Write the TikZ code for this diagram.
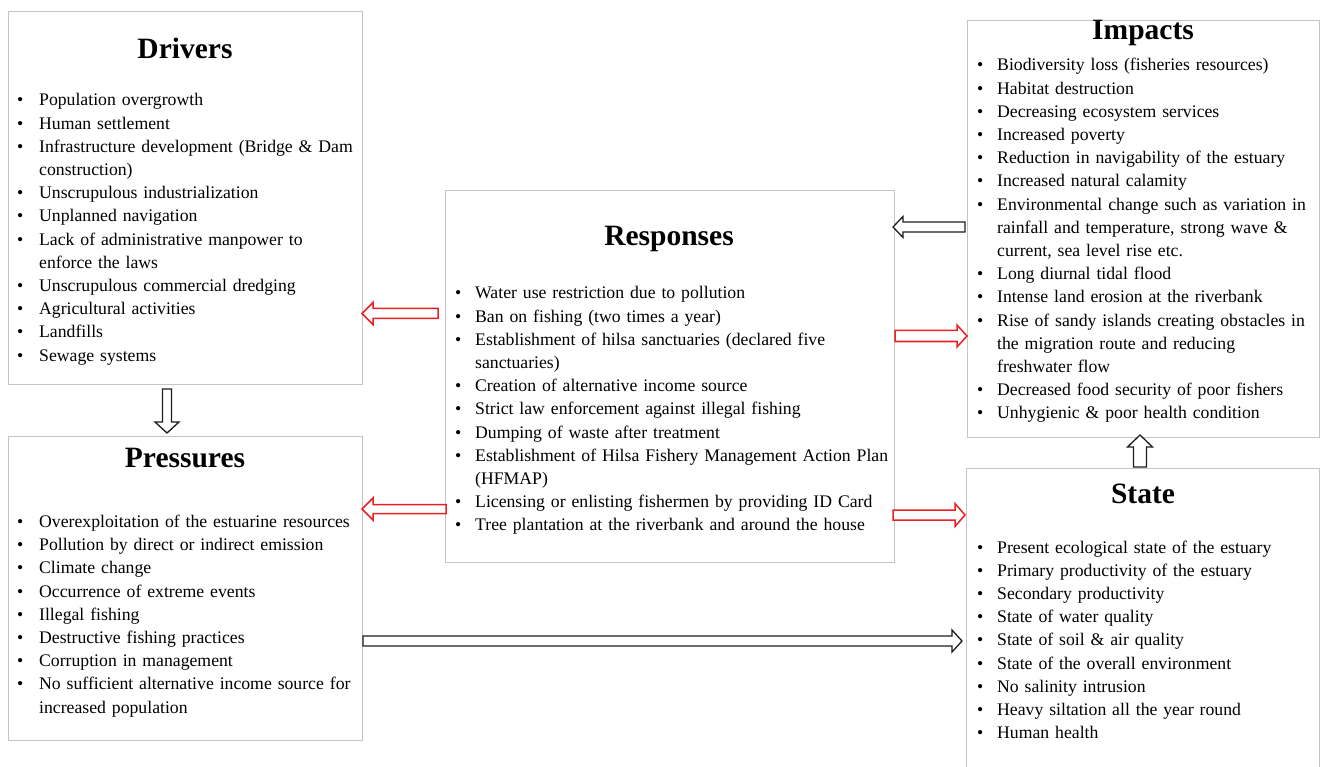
\documentclass[tikz,border=0pt]{standalone}
\usepackage{fontspec}
\setmainfont{Liberation Serif}
\usetikzlibrary{calc}
\definecolor{boxgray}{RGB}{196,196,196}
\definecolor{arrred}{RGB}{236,32,36}
\definecolor{arrblack}{RGB}{30,30,30}
\newlength\bulw
\newcommand\bitem{\makebox[\bulw][l]{\textbullet}}
\newcommand\cont{\hspace*{\bulw}}
\newcommand\blockarrow[6][]{%
  \path (#2) coordinate (bas) (#3) coordinate (bat) ($(bat)!#6!(bas)$) coordinate (bah);
  \draw[#1] ($(bas)!#4!90:(bat)$) -- ($(bah)!#4!90:(bat)$) -- ($(bah)!#5!90:(bat)$) -- (bat)
    -- ($(bah)!#5!-90:(bat)$) -- ($(bah)!#4!-90:(bat)$) -- ($(bas)!#4!-90:(bat)$) -- cycle;}
\tikzset{
  box/.style={draw=boxgray, line width=1pt, inner sep=0pt, anchor=north west},
  titlet/.style={font=\fontsize{29.5}{35}\selectfont\bfseries, inner sep=0pt, anchor=base},
  lst/.style={font={\fontsize{17.7}{23.2}\selectfont\setlength{\bulw}{#1}}, inner sep=0pt,
    anchor=base west, text width=520pt, align=left},
  redarr/.style={draw=arrred, line width=1.5pt, fill=white, line join=miter},
  blkarr/.style={draw=arrblack, line width=1.3pt, fill=white, line join=miter},
}
\begin{document}
\begin{tikzpicture}[x=1pt,y=-1pt]
\fill[white] (0,0) rectangle (1320,767);
\useasboundingbox (0,0) rectangle (1320,767);

% boxes
\node[box, minimum width=354pt, minimum height=373pt] (drv) at (8,11) {};
\node[box, minimum width=354pt, minimum height=304pt] (prs) at (8,436) {};
\node[box, minimum width=449pt, minimum height=372pt] (rsp) at (445,190) {};
\node[box, minimum width=352pt, minimum height=417pt] (imp) at (967,20) {};
\node[box, minimum width=353pt, minimum height=330pt] (sta) at (966,468) {};

% titles
\node[titlet] (drvt) at (185,59) {Drivers};
\node[titlet] (prst) at (185,467) {Pressures};
\node[titlet] (rspt) at (669,246) {Responses};
\node[titlet] (impt) at (1143,40) {Impacts};
\node[titlet] (stat) at (1143,503) {State};

% lists
\node[lst=22pt] (drvl) at (17,106) {%
\bitem Population overgrowth\\
\bitem Human settlement\\
\bitem Infrastructure development (Bridge \& Dam\\
\cont construction)\\
\bitem Unscrupulous industrialization\\
\bitem Unplanned navigation\\
\bitem Lack of administrative manpower to\\
\cont enforce the laws\\
\bitem Unscrupulous commercial dredging\\
\bitem Agricultural activities\\
\bitem Landfills\\
\bitem Sewage systems};

\node[lst=22pt] (prsl) at (17,527.5) {%
\bitem Overexploitation of the estuarine resources\\
\bitem Pollution by direct or indirect emission\\
\bitem Climate change\\
\bitem Occurrence of extreme events\\
\bitem Illegal fishing\\
\bitem Destructive fishing practices\\
\bitem Corruption in management\\
\bitem No sufficient alternative income source for\\
\cont increased population};

\node[lst=20pt] (rspl) at (455,299) {%
\bitem Water use restriction due to pollution\\
\bitem Ban on fishing (two times a year)\\
\bitem Establishment of hilsa sanctuaries (declared five\\
\cont sanctuaries)\\
\bitem Creation of alternative income source\\
\bitem Strict law enforcement against illegal fishing\\
\bitem Dumping of waste after treatment\\
\bitem Establishment of Hilsa Fishery Management Action Plan\\
\cont (HFMAP)\\
\bitem Licensing or enlisting fishermen by providing ID Card\\
\bitem Tree plantation at the riverbank and around the house};

\node[lst=20pt] (impl) at (977,71) {%
\bitem Biodiversity loss (fisheries resources)\\
\bitem Habitat destruction\\
\bitem Decreasing ecosystem services\\
\bitem Increased poverty\\
\bitem Reduction in navigability of the estuary\\
\bitem Increased natural calamity\\
\bitem Environmental change such as variation in\\
\cont rainfall and temperature, strong wave \&\\
\cont current, sea level rise etc.\\
\bitem Long diurnal tidal flood\\
\bitem Intense land erosion at the riverbank\\
\bitem Rise of sandy islands creating obstacles in\\
\cont the migration route and reducing\\
\cont freshwater flow\\
\bitem Decreased food security of poor fishers\\
\bitem Unhygienic \& poor health condition};

\node[lst=20pt] (stal) at (977,553) {%
\bitem Present ecological state of the estuary\\
\bitem Primary productivity of the estuary\\
\bitem Secondary productivity\\
\bitem State of water quality\\
\bitem State of soil \& air quality\\
\bitem State of the overall environment\\
\bitem No salinity intrusion\\
\bitem Heavy siltation all the year round\\
\bitem Human health};

% arrow end points
\coordinate (dps) at (167,389);   \coordinate (dpt) at (167,433);
\coordinate (rds) at (438,313.5); \coordinate (rdt) at (362,313.5);
\coordinate (rps) at (446,509);   \coordinate (rpt) at (362,509);
\coordinate (irs) at (965,227);   \coordinate (irt) at (893,227);
\coordinate (ris) at (895,336);   \coordinate (rit) at (967,336);
\coordinate (rss) at (893,515);   \coordinate (rst) at (965,515);
\coordinate (sis) at (1140,467);  \coordinate (sit) at (1140,435);
\coordinate (pss) at (363,641);   \coordinate (pst) at (962,641);

% block arrows
\blockarrow[blkarr]{dps}{dpt}{4.5pt}{12pt}{11pt}
\blockarrow[redarr]{rds}{rdt}{5pt}{11pt}{11pt}
\blockarrow[redarr]{rps}{rpt}{4.5pt}{11pt}{11pt}
\blockarrow[blkarr]{irs}{irt}{5pt}{10.5pt}{10pt}
\blockarrow[redarr]{ris}{rit}{5.5pt}{11pt}{10pt}
\blockarrow[redarr]{rss}{rst}{5pt}{11.5pt}{10pt}
\blockarrow[blkarr]{sis}{sit}{6.5pt}{12.5pt}{12pt}
\blockarrow[blkarr]{pss}{pst}{5pt}{11pt}{10pt}
\end{tikzpicture}
\end{document}
